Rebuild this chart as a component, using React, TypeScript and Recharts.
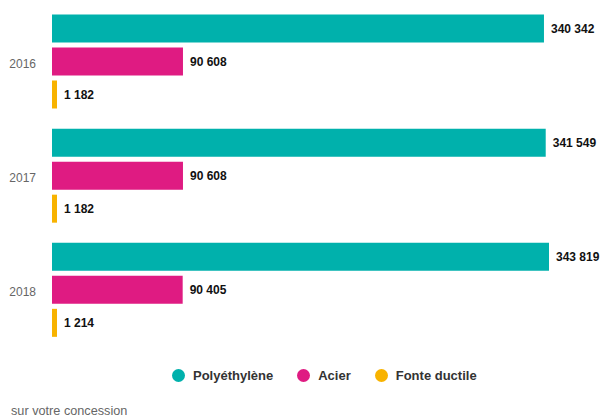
import React from 'react';
import { BarChart, Bar, XAxis, YAxis, Legend, LabelList } from 'recharts';

const years = ['2016', '2017', '2018'];
const polyethylene = [340342, 341549, 343819];
const acier = [90608, 90608, 90405];
const fonteDuctile = [1182, 1182, 1214];

const series = [
  { key: 'polyethylene', name: 'Polyéthylène', color: '#00B1AC', values: polyethylene },
  { key: 'acier', name: 'Acier', color: '#DF1B82', values: acier },
  { key: 'fonte', name: 'Fonte ductile', color: '#F8B300', values: fonteDuctile },
];

const data = years.map((year, i) => ({
  year,
  polyethylene: polyethylene[i],
  acier: acier[i],
  fonte: fonteDuctile[i],
}));

const fmt = (v: any) => String(v).replace(/\B(?=(\d{3})+(?!\d))/g, ' ');

const FONT = '"Liberation Sans", Arial, Helvetica, sans-serif';

// plain svg text so the label never wraps
const ValueLabel = (props: any) => {
  const { x, y, width, height, value } = props;
  return (
    <text
      x={Number(x) + Number(width) + 7}
      y={Number(y) + Number(height) / 2}
      dy="0.35em"
      fill="#111"
      fontSize={12}
      fontWeight={700}
      fontFamily={FONT}
    >
      {fmt(value)}
    </text>
  );
};

const LegendContent = () => (
  <div style={{ height: 72, paddingTop: 18, boxSizing: 'border-box', fontFamily: FONT }}>
    <div style={{ display: 'flex', alignItems: 'center', paddingLeft: 172, height: 20 }}>
      {series.map((s, i) => (
        <div key={s.key} style={{ display: 'flex', alignItems: 'center', marginLeft: i === 0 ? 0 : 24 }}>
          <span
            style={{
              width: 13,
              height: 13,
              borderRadius: '50%',
              background: s.color,
              display: 'inline-block',
              marginRight: 8,
            }}
          />
          <span style={{ fontSize: 13, fontWeight: 700, color: '#333' }}>{s.name}</span>
        </div>
      ))}
    </div>
  </div>
);

export default function App() {
  return (
    <div style={{ position: 'absolute', left: 0, top: 0, width: 600, height: 419, background: '#fff' }}>
      <BarChart
        width={600}
        height={419}
        data={data}
        layout="vertical"
        margin={{ top: 4.5, right: 51, left: 0, bottom: 0 }}
        barSize={28}
        barGap={5}
      >
        <XAxis type="number" hide domain={[0, 'dataMax']} />
        <YAxis
          type="category"
          dataKey="year"
          width={52}
          axisLine={false}
          tickLine={false}
          tickMargin={10}
          tick={{ fill: '#666', fontSize: 12, fontFamily: FONT, dy: 2 }}
        />
        <Legend verticalAlign="bottom" content={<LegendContent />} />
        {series.map((s) => (
          <Bar
            key={s.key}
            dataKey={s.key}
            name={s.name}
            fill={s.color}
            minPointSize={s.key === 'fonte' ? 5 : 0}
            isAnimationActive={false}
          >
            <LabelList dataKey={s.key} content={<ValueLabel />} />
          </Bar>
        ))}
      </BarChart>
      <div
        style={{
          position: 'absolute',
          left: 11,
          top: 404,
          fontSize: 12.7,
          lineHeight: '15px',
          color: '#666',
          fontFamily: FONT,
        }}
      >
        sur votre concession
      </div>
    </div>
  );
}
